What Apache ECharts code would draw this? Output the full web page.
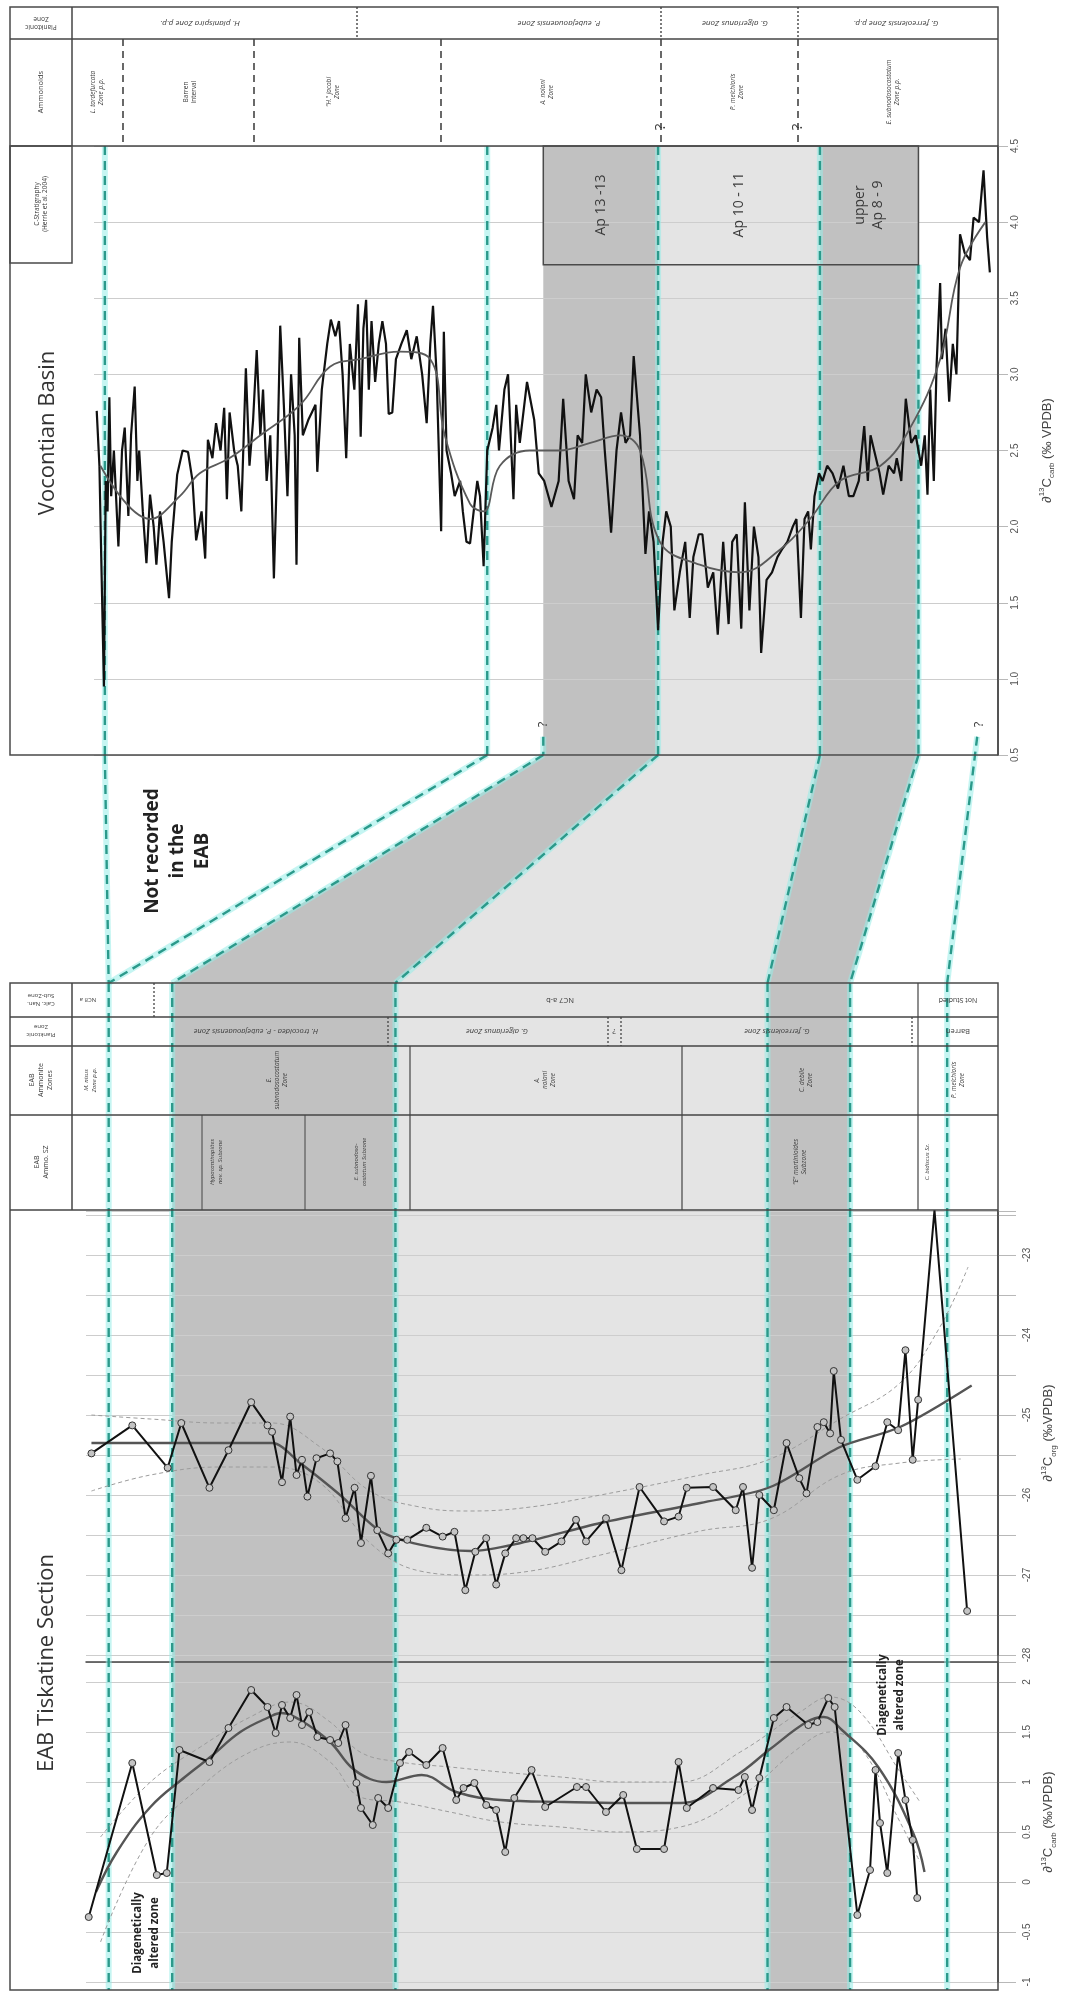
<!DOCTYPE html>
<html>
<head>
<meta charset="utf-8">
<script src="https://cdn.jsdelivr.net/npm/echarts@6.0.0/dist/echarts.min.js"></script>
<style>
  html, body { margin: 0; padding: 0; background: #fff; }
  #chart { width: 1065px; height: 1993px; }
</style>
</head>
<body>
<div id="chart"></div>
<script>
// ---- Vocontian Basin, d13C carb (position along section 0-100) ----
const vocPos = [0.3,0.6,0.8,1.1,1.3,1.5,1.7,1.9,2.2,2.7,
  3.1,3.4,3.8,4.1,4.5,4.8,5.0,5.4,5.8,6.2,
  6.6,6.9,7.3,7.7,8.3,8.6,9.2,9.8,10.4,10.9,
  11.3,11.9,12.3,12.6,13.1,13.5,14.0,14.4,14.7,15.0,
  15.5,15.9,16.3,16.8,17.2,17.6,18.0,18.4,18.7,19.1,
  19.5,19.9,20.3,20.6,21.0,21.4,21.8,22.2,22.4,22.7,
  23.1,23.7,24.1,24.5,24.7,25.2,25.8,26.2,26.7,27.1,
  27.5,27.9,28.3,28.8,29.2,29.5,29.8,30.1,30.4,30.7,
  31.1,31.5,31.9,32.3,32.6,33.0,33.4,34.0,34.6,35.1,
  35.7,36.3,36.8,37.2,37.5,37.9,38.4,38.7,39.0,39.5,
  39.9,40.5,40.8,41.2,41.6,42.0,42.4,42.7,43.1,43.5,
  44.1,44.5,44.8,45.4,45.8,46.4,46.7,47.1,47.9,48.7,
  49.2,49.8,50.6,51.4,51.9,52.5,53.1,53.5,54.0,54.4,
  55.0,55.6,56.1,56.5,57.2,57.8,58.3,58.8,59.3,59.7,
  60.4,61.0,61.4,61.9,62.4,62.9,63.3,63.8,64.2,64.8,
  65.4,65.9,66.3,66.9,67.3,67.9,68.5,69.0,69.6,70.2,
  70.6,71.1,71.6,72.0,72.5,73.0,73.5,73.8,74.4,75.0,
  75.6,76.1,76.7,77.3,77.7,78.2,78.6,79.0,79.3,79.7,
  80.2,80.6,81.1,81.7,82.3,82.9,83.5,84.0,84.6,85.2,
  85.6,85.9,86.3,86.9,87.3,87.9,88.5,88.8,89.3,89.8,
  90.4,90.9,91.5,91.9,92.2,92.5,92.9,93.2,93.6,93.8,
  94.2,94.6,95.0,95.4,95.8,96.3,96.9,97.3,97.9,98.4,
  98.8,99.1];
const vocD13C = [2.76,2.4,1.8,0.95,2.3,2.1,2.85,2.2,2.5,1.87,
  2.5,2.65,2.07,2.6,2.92,2.3,2.5,2.1,1.76,2.21,
  2.0,1.75,2.1,1.9,1.53,1.9,2.34,2.5,2.49,2.3,
  1.91,2.1,1.79,2.57,2.45,2.68,2.5,2.78,2.18,2.75,
  2.5,2.4,2.1,3.04,2.4,2.7,3.16,2.6,2.9,2.3,
  2.6,1.66,2.5,3.32,2.8,2.2,3.0,2.6,1.75,3.24,
  2.6,2.7,2.75,2.8,2.36,2.9,3.2,3.36,3.25,3.35,
  3.0,2.45,3.2,2.9,3.46,2.59,3.3,3.49,2.9,3.35,
  2.95,3.2,3.35,3.2,2.74,2.75,3.1,3.2,3.29,3.1,
  3.25,3.0,2.68,3.2,3.45,3.0,1.97,3.28,2.5,2.35,
  2.2,2.3,2.1,1.9,1.89,2.1,2.3,2.2,1.74,2.5,
  2.65,2.8,2.5,2.9,3.0,2.18,2.8,2.55,2.95,2.7,
  2.35,2.3,2.13,2.3,2.84,2.3,2.18,2.6,2.55,3.0,
  2.75,2.9,2.85,2.5,1.96,2.5,2.75,2.55,2.6,3.12,
  2.6,1.82,2.1,1.9,1.32,1.9,2.1,2.0,1.45,1.7,
  1.9,1.4,1.8,1.95,1.95,1.6,1.7,1.29,1.9,1.36,
  1.9,1.95,1.33,2.16,1.45,2.0,1.8,1.17,1.65,1.7,
  1.8,1.85,1.9,2.0,2.05,1.4,2.05,2.1,1.85,2.2,
  2.35,2.3,2.4,2.35,2.25,2.4,2.2,2.2,2.3,2.66,
  2.3,2.6,2.5,2.35,2.21,2.4,2.35,2.45,2.3,2.84,
  2.55,2.6,2.4,2.6,2.21,2.9,2.3,3.05,3.6,3.1,
  3.3,2.82,3.2,3.0,3.92,3.8,3.75,4.03,4.0,4.34,
  3.9,3.67];
const vocFitPos = [0.7,6.2,9.5,11.7,15.0,18.4,22.8,26.1,29.4,33.8,37.2,38.8,41.6,43.1,44.9,48.2,51.5,54.9,58.2,60.4,62.6,67.0,71.5,75.9,79.2,82.5,87.0,90.3,93.6,95.8,98.6];
const vocFit = [2.4,2.05,2.2,2.35,2.45,2.6,2.8,3.05,3.1,3.15,3.1,2.6,2.15,2.1,2.4,2.5,2.5,2.55,2.6,2.5,1.9,1.75,1.7,1.85,2.05,2.3,2.4,2.65,3.1,3.7,4.0];

// ---- EAB Tiskatine section, d13C org ----
const orgPos = [0.1,4.6,8.5,10.0,13.1,15.2,17.7,19.5,20.0,21.1,22.0,22.7,23.3,23.9,24.9,26.4,27.2,28.1,29.1,29.8,30.9,31.6,32.8,33.7,34.9,37.0,38.8,40.1,41.3,42.4,43.6,44.7,45.7,46.9,47.7,48.7,50.1,51.9,53.5,54.6,56.8,58.5,60.5,63.2,64.8,65.7,68.6,71.1,71.9,72.9,73.7,75.3,76.7,78.1,78.9,80.1,80.8,81.5,81.9,82.7,84.5,86.5,87.8,89.0,89.8,90.6,91.2,93.0,96.6];
const orgD13C = [-25.48,-25.13,-25.66,-25.10,-25.91,-25.44,-24.84,-25.13,-25.21,-25.84,-25.02,-25.75,-25.56,-26.02,-25.54,-25.48,-25.58,-26.29,-25.91,-26.60,-25.76,-26.44,-26.73,-26.56,-26.56,-26.41,-26.52,-26.46,-27.19,-26.71,-26.54,-27.12,-26.73,-26.54,-26.54,-26.54,-26.71,-26.58,-26.31,-26.58,-26.29,-26.94,-25.90,-26.33,-26.27,-25.91,-25.90,-26.19,-25.90,-26.91,-26.00,-26.19,-25.35,-25.79,-25.98,-25.15,-25.09,-25.23,-24.45,-25.31,-25.81,-25.64,-25.09,-25.19,-24.19,-25.56,-24.81,-22.44,-27.45];
const orgFitPos = [0.1,6.6,12.1,20.0,23.1,27.5,31.9,36.3,41.9,47.4,56.2,67.2,74.9,82.6,89.2,97.1];
const orgFit = [-25.35,-25.35,-25.35,-25.35,-25.6,-26.0,-26.45,-26.62,-26.7,-26.6,-26.35,-26.1,-25.9,-25.4,-25.15,-24.63];
const orgUpperPos = [0.1,6.6,14.3,20.0,25.3,30.8,36.3,41.9,48.5,56.2,67.2,74.9,82.6,89.2,93.6,96.7];
const orgUpper = [-25.0,-25.05,-25.1,-25.1,-25.4,-25.95,-26.15,-26.2,-26.15,-26.0,-25.75,-25.55,-25.05,-24.6,-23.9,-23.15];
const orgLowerPos = [0.1,6.6,14.3,20.0,25.3,30.8,36.3,41.9,48.5,56.2,67.2,74.9,82.6,89.2,95.9];
const orgLower = [-25.95,-25.75,-25.65,-25.65,-25.85,-26.6,-26.95,-27.0,-26.95,-26.75,-26.45,-26.3,-25.75,-25.6,-25.55];

// ---- EAB Tiskatine section, d13C carb ----
const carbPos = [-0.2,4.6,7.3,8.4,9.8,13.1,15.2,17.7,19.5,20.4,21.1,22.0,22.7,23.3,24.1,25.0,26.4,27.3,28.1,29.3,29.8,31.1,31.7,32.8,34.1,35.1,37.0,38.8,40.3,41.1,42.3,43.6,44.7,45.7,46.7,48.6,50.1,53.6,54.6,56.8,58.7,60.2,63.2,64.8,65.7,68.6,71.4,72.1,72.9,73.7,75.3,76.7,79.1,80.1,81.3,82.0,84.5,85.9,86.5,87.0,87.8,89.0,89.8,90.6,91.1];
const carbD13C = [-0.35,1.19,0.07,0.09,1.32,1.20,1.54,1.92,1.75,1.49,1.77,1.64,1.87,1.57,1.70,1.45,1.42,1.39,1.57,0.99,0.74,0.57,0.84,0.74,1.19,1.30,1.17,1.34,0.82,0.94,0.99,0.77,0.72,0.30,0.84,1.12,0.75,0.95,0.95,0.70,0.87,0.33,0.33,1.20,0.74,0.94,0.92,1.05,0.72,1.04,1.64,1.75,1.57,1.60,1.84,1.75,-0.33,0.12,1.12,0.59,0.09,1.29,0.82,0.42,-0.16];
const carbFitPos = [0.6,2.9,6.6,10.4,13.2,16.5,19.7,21.0,23.1,26.4,28.7,30.8,32.6,36.5,40.3,45.2,52.2,58.8,65.0,70.9,74.9,78.9,80.8,82.8,86.8,90.7,91.9];
const carbFit = [-0.1,0.3,0.75,1.05,1.25,1.5,1.65,1.69,1.62,1.4,1.15,1.03,1.0,1.07,0.9,0.82,0.8,0.79,0.79,1.05,1.33,1.6,1.65,1.52,1.15,0.48,0.1];
const carbBandPos = [1.1,6.6,12.1,17.6,22.0,26.4,29.7,34.1,39.6,45.2,51.8,58.4,65.0,71.6,78.2,81.5,84.8,89.2,91.4];
const carbUpper = [0.45,1.0,1.35,1.65,1.8,1.6,1.3,1.2,1.15,1.1,1.05,1.0,1.0,1.3,1.7,1.85,1.7,1.1,0.8];
const carbLower = [-0.6,0.45,0.95,1.3,1.4,1.2,0.85,0.8,0.7,0.6,0.55,0.5,0.55,0.85,1.35,1.5,1.35,0.6,0.2];

// ---- tick labels ----
const vocTicks = [0.5,1.0,1.5,2.0,2.5,3.0,3.5,4.0,4.5];
const orgTicks = [-28,-27,-26,-25,-24,-23];
const carbTicks = [-1,-0.5,0,0.5,1,1.5,2];

// ---- correlated intervals (positions on each section) ----
const vocShadeFrom = [49.7, 62.4, 80.3];
const vocShadeTo = [62.4, 80.3, 91.2];
const eabShadeFrom = [9.0, 33.6, 74.6];
const eabShadeTo = [33.6, 74.6, 83.7];
const vocLinePos = [1.2, 43.5, 62.4, 80.3, 91.2];
const vocLineTop = [4.5, 4.5, 4.5, 4.5, 3.72];
const eabLinePos = [2.0, 9.0, 33.6, 74.6, 83.7, 94.4];
const tieVoc = [1.2, 43.5, 49.7, 62.4, 80.3, 91.2, 97.7];
const tieVocValue = [0.5, 0.5, 0.62, 0.5, 0.5, 0.5, 0.62];
const tieEab = [2.0, 2.0, 9.0, 33.6, 74.6, 83.7, 94.4];
const cStratFrom = [49.7, 62.4, 80.3];
const cStratTo = [62.4, 80.3, 91.2];
const cStratNames = ['Ap 13 -13', 'Ap 10 - 11', 'upper\nAp 8 - 9'];

const shadeColours = ['#c1c1c1', '#e4e4e4', '#c1c1c1'];
const FONT = '"Open Sans", "DejaVu Sans", sans-serif';
const TFONT = '"Liberation Sans", Arial, sans-serif';

const zip = (xs, ys) => xs.map((x, i) => [x, ys[i]]);
const tickFmt = (ticks, digits) => v => {
  const t = ticks.find(k => Math.abs(k - v) < 1e-6);
  return t === undefined ? '' : (digits ? t.toFixed(digits) : String(t));
};
const axisName = (sub, tail) => '{n|∂}{s|13}{n|C}{b|' + sub + '}{n|' + tail + '}';
const nameStyle = {
  color: '#444', fontFamily: TFONT,
  rich: {
    n: {fontSize: 13, lineHeight: 18, fontFamily: TFONT, color: '#444'},
    s: {fontSize: 8, lineHeight: 18, verticalAlign: 'top', fontFamily: TFONT, color: '#444'},
    b: {fontSize: 8, lineHeight: 18, verticalAlign: 'bottom', fontFamily: TFONT, color: '#444'}
  }
};
const yAxisBase = (grid, min, max, ticks, digits, margin, tickLen) => ({
  gridIndex: grid, type: 'value', position: 'right', min: min, max: max, interval: 0.5, z: 0,
  axisLine: {show: true, onZero: false, lineStyle: {color: '#4a4a4a', width: 1.5}},
  axisTick: {show: true, length: tickLen, lineStyle: {color: '#b8b8b8'}},
  splitLine: {show: true, lineStyle: {color: '#cdcdcd', width: 1.2}},
  axisLabel: {rotate: 90, fontSize: 10, color: '#555', fontFamily: TFONT, margin: margin,
    formatter: tickFmt(ticks, digits)},
  nameLocation: 'middle', nameRotate: 90, nameTextStyle: nameStyle
});

const rawStyle = {color: '#111', width: 2};
const dotStyle = {color: '#c4c4c4', borderColor: '#333', borderWidth: 1};
const fitStyle = {color: '#555', width: 2.4};
const ciStyle = {color: '#9c9c9c', width: 1, type: [4, 3]};

const option = {
  animation: false,
  backgroundColor: '#fff',
  grid: [
    {left: 94, top: 146, width: 904, height: 609, containLabel: false, outerBoundsMode: 'none'},
    {left: 86, top: 1211, width: 912, height: 444, containLabel: false, outerBoundsMode: 'none'},
    {left: 86, top: 1662, width: 912, height: 320, containLabel: false, outerBoundsMode: 'none'}
  ],
  xAxis: [
    {gridIndex: 0, type: 'value', min: 0, max: 100, show: false},
    {gridIndex: 1, type: 'value', min: -0.5, max: 100, show: false},
    {gridIndex: 2, type: 'value', min: -0.5, max: 100, position: 'top',
      axisLine: {show: true, onZero: false, lineStyle: {color: '#444', width: 1.5}},
      axisTick: {show: false}, axisLabel: {show: false}, splitLine: {show: false}}
  ],
  yAxis: [
    Object.assign(yAxisBase(0, 0.5, 4.5, vocTicks, 1, 12, 10),
      {name: axisName('carb', ' (‰ VPDB)'), nameGap: 40}),
    Object.assign(yAxisBase(1, -28, -22.45, orgTicks, 0, 24, 18),
      {name: axisName('org', ' (‰VPDB)'), nameGap: 38}),
    Object.assign(yAxisBase(2, -1, 2.2, carbTicks, 0, 24, 18),
      {name: axisName('carb', ' (‰VPDB)'), nameGap: 38})
  ],
  series: [
    {type: 'line', xAxisIndex: 0, yAxisIndex: 0, data: zip(vocPos, vocD13C), symbol: 'none',
      lineStyle: {color: '#111', width: 2.2}, z: 5, silent: true},
    {type: 'line', xAxisIndex: 0, yAxisIndex: 0, data: zip(vocFitPos, vocFit), symbol: 'none',
      smooth: 0.4, lineStyle: {color: '#5a5a5a', width: 1.8}, z: 6, silent: true},

    {type: 'line', xAxisIndex: 1, yAxisIndex: 1, data: zip(orgUpperPos, orgUpper), symbol: 'none',
      smooth: 0.4, lineStyle: ciStyle, z: 4, silent: true},
    {type: 'line', xAxisIndex: 1, yAxisIndex: 1, data: zip(orgLowerPos, orgLower), symbol: 'none',
      smooth: 0.4, lineStyle: ciStyle, z: 4, silent: true},
    {type: 'line', xAxisIndex: 1, yAxisIndex: 1, data: zip(orgFitPos, orgFit), symbol: 'none',
      smooth: 0.3, lineStyle: fitStyle, z: 5, silent: true},
    {type: 'line', xAxisIndex: 1, yAxisIndex: 1, data: zip(orgPos, orgD13C), symbol: 'circle',
      symbolSize: 7, itemStyle: dotStyle, lineStyle: rawStyle, z: 6, silent: true},

    {type: 'line', xAxisIndex: 2, yAxisIndex: 2, data: zip(carbBandPos, carbUpper), symbol: 'none',
      smooth: 0.4, lineStyle: ciStyle, z: 4, silent: true},
    {type: 'line', xAxisIndex: 2, yAxisIndex: 2, data: zip(carbBandPos, carbLower), symbol: 'none',
      smooth: 0.4, lineStyle: ciStyle, z: 4, silent: true},
    {type: 'line', xAxisIndex: 2, yAxisIndex: 2, data: zip(carbFitPos, carbFit), symbol: 'none',
      smooth: 0.4, lineStyle: fitStyle, z: 5, silent: true},
    {type: 'line', xAxisIndex: 2, yAxisIndex: 2, data: zip(carbPos, carbD13C), symbol: 'circle',
      symbolSize: 7, itemStyle: dotStyle, lineStyle: rawStyle, z: 6, silent: true}
  ]
};

const chart = echarts.init(document.getElementById('chart'), null, {renderer: 'canvas'});
chart.setOption(option);

// ---- frames, shading, correlation lines and header tables ----
const X0 = u => chart.convertToPixel({xAxisIndex: 0}, u);
const X1 = u => chart.convertToPixel({xAxisIndex: 1}, u);
const Y0 = v => chart.convertToPixel({yAxisIndex: 0}, v);
const TOPB = Y0(0.5), TOPT = Y0(4.5);
const T = {l: 10, r: 998, t: 7, r1: 39, r2: 146, col: 72, cs: 263};
const B = {t: 983, r1: 1017, r2: 1046, r3: 1115, r4: 1210, b: 1990};

const G = [];
const rect = (x, y, w, h, style, z) => G.push({type: 'rect', silent: true, z: z, shape: {x, y, width: w, height: h}, style: style});
const line = (x1, y1, x2, y2, style, z) => G.push({type: 'line', silent: true, z: z === undefined ? 10 : z,
  shape: {x1, y1, x2, y2}, style: Object.assign({stroke: '#444', lineWidth: 1.3}, style)});
const teal = (x1, y1, x2, y2) => {
  line(x1, y1, x2, y2, {stroke: 'rgba(150,236,232,0.55)', lineWidth: 6}, 1.5);
  line(x1, y1, x2, y2, {stroke: '#2b9a8b', lineWidth: 2.4, lineDash: [9, 6]}, 2);
};
const txt = (x, y, s, o) => {
  o = o || {};
  const size = o.size || 8;
  G.push({type: 'text', silent: true, z: 12, x: x, y: y, rotation: (o.rot || 0) * Math.PI / 180,
    style: {text: s, fontSize: size, fontFamily: o.font || FONT, fontWeight: o.bold ? 'bold' : 'normal',
      fontStyle: o.italic ? 'italic' : 'normal', fill: o.color || '#3a3a3a',
      align: 'center', verticalAlign: 'middle', lineHeight: o.lh || Math.round(size * 1.25)}});
};

// shading
vocShadeFrom.forEach((a, i) => rect(X0(a), TOPT, X0(vocShadeTo[i]) - X0(a), TOPB - TOPT, {fill: shadeColours[i]}, -5));
eabShadeFrom.forEach((a, i) => rect(X1(a), B.t, X1(eabShadeTo[i]) - X1(a), B.b - B.t, {fill: shadeColours[i]}, -5));
vocShadeFrom.forEach((a, i) => G.push({type: 'polygon', silent: true, z: -5,
  shape: {points: [[X0(a), TOPB], [X0(vocShadeTo[i]), TOPB], [X1(eabShadeTo[i]), B.t], [X1(eabShadeFrom[i]), B.t]]},
  style: {fill: shadeColours[i]}}));

// correlation lines
vocLinePos.forEach((u, i) => teal(X0(u), Y0(vocLineTop[i]), X0(u), TOPB));
eabLinePos.forEach(u => teal(X1(u), B.t, X1(u), B.b));
tieVoc.forEach((u, i) => {
  if (i === 2) {
    teal(X0(u), Y0(tieVocValue[i]), X0(u), TOPB);
    teal(X0(u), TOPB, X1(tieEab[i]), B.t);
  } else {
    teal(X0(u), Y0(tieVocValue[i]), X1(tieEab[i]), B.t);
  }
});
txt(X0(49.7), Y0(0.7), '?', {rot: 90, size: 13});
txt(X0(97.7) + 2, Y0(0.7), '?', {rot: 90, size: 13});

// top panel frame and header
const frame = {fill: 'none', stroke: '#4a4a4a', lineWidth: 1.5};
rect(T.l, T.t, T.r - T.l, TOPB - T.t, frame, 10);
line(T.l, T.r1, T.r, T.r1, {lineWidth: 1.5});
line(T.l, T.r2, T.r, T.r2, {lineWidth: 1.5});
line(T.col, T.t, T.col, T.r2, {lineWidth: 1.5});
rect(T.l, T.r2, T.col - T.l, T.cs - T.r2, frame, 10);
rect(X0(cStratFrom[0]), TOPT, X0(cStratTo[2]) - X0(cStratFrom[0]), Y0(3.72) - TOPT, frame, 10);
cStratNames.forEach((s, i) => txt((X0(cStratFrom[i]) + X0(cStratTo[i])) / 2, 205, s, {rot: 90, size: 14, lh: 18}));

[357, 661, 798].forEach(x => line(x, T.t, x, T.r1, {lineDash: [2, 2], lineWidth: 1.4}));
[123, 254, 441, 661, 798].forEach(x => line(x, T.r1, x, T.r2, {lineDash: [7, 5], lineWidth: 1.6}));
txt(41, 23, 'Planktonic\nZone', {rot: 180, size: 6.5});
txt(41, 92, 'Ammonoids', {rot: 90, size: 7.5});
txt(41, 204, 'C-Stratigraphy\n(Herrle et al. 2004)', {rot: 90, size: 6.5});
txt(200, 23, 'H. planispira Zone p.p.', {rot: 180, size: 8, italic: true});
txt(559, 23, 'P. eubejaouaensis Zone', {rot: 180, size: 8, italic: true});
txt(735, 23, 'G. algerianus Zone', {rot: 180, size: 8, italic: true});
txt(896, 23, 'G. ferreolensis Zone p.p.', {rot: 180, size: 8, italic: true});
txt(97, 92, 'L. tardefurcata\nZone p.p.', {rot: 90, size: 6.5, italic: true});
txt(190, 92, 'Barren\ninterval', {rot: 90, size: 6.5});
txt(333, 92, '"H." jacobi\nZone', {rot: 90, size: 6.5, italic: true});
txt(547, 92, 'A. nolani\nZone', {rot: 90, size: 6.5, italic: true});
txt(737, 92, 'P. melchioris\nZone', {rot: 90, size: 6.5, italic: true});
txt(893, 92, 'E. subnodosocostatum\nZone p.p.', {rot: 90, size: 6.5, italic: true});
txt(661, 127, '?', {rot: 90, size: 15});
txt(798, 127, '?', {rot: 90, size: 15});
txt(48, 433, 'Vocontian Basin', {rot: 90, size: 22, color: '#333'});

// connector annotation
txt(178, 851, 'Not recorded\nin the\nEAB', {rot: 90, size: 19, bold: true, lh: 25, color: '#222'});

// lower panel frame and header
rect(T.l, B.t, T.r - T.l, B.b - B.t, frame, 10);
[B.r1, B.r2, B.r3, B.r4].forEach(y => line(T.l, y, T.r, y, {lineWidth: 1.5}));
line(T.col, B.t, T.col, B.r4, {lineWidth: 1.5});
line(154, B.t, 154, B.r1, {lineDash: [2, 2]});
line(918, B.t, 918, B.r2, {lineWidth: 1.2});
[388, 608, 621, 912].forEach(x => line(x, B.r1, x, B.r2, {lineDash: [2, 2]}));
[410, 682, 918].forEach(x => line(x, B.r2, x, B.r4, {lineWidth: 1.2}));
[202, 305].forEach(x => line(x, B.r3, x, B.r4, {lineWidth: 1}));
txt(41, 1000, 'Calc. Nan.\nSub-Zone', {rot: 180, size: 6});
txt(41, 1031, 'Planktonic\nZone', {rot: 180, size: 6});
txt(41, 1080, 'EAB\nAmmonite\nZones', {rot: 90, size: 7});
txt(41, 1162, 'EAB\nAmmo. SZ', {rot: 90, size: 7});
txt(88, 1000, 'NC8 a', {rot: 180, size: 6});
txt(560, 1000, 'NC7 a-b', {rot: 180, size: 7.5});
txt(958, 1000, 'Not Studied', {rot: 180, size: 7});
txt(256, 1031, 'H. trocoidea - P. eubejaouaensis Zone', {rot: 180, size: 7.5, italic: true});
txt(497, 1031, 'G. algerianus Zone', {rot: 180, size: 7.5, italic: true});
txt(614, 1031, '?', {rot: 180, size: 8});
txt(777, 1031, 'G. ferreolensis Zone', {rot: 180, size: 7.5, italic: true});
txt(958, 1031, 'Barren', {rot: 180, size: 7.5});
txt(90, 1080, 'M. nisus\nZone p.p.', {rot: 90, size: 6, italic: true});
txt(277, 1080, 'E.\nsubnodosocostatum\nZone', {rot: 90, size: 6.5, italic: true});
txt(545, 1080, 'A.\nnolani\nZone', {rot: 90, size: 6.5, italic: true});
txt(806, 1080, 'C. debile\nZone', {rot: 90, size: 6.5, italic: true});
txt(958, 1080, 'P. melchioris\nZone', {rot: 90, size: 6.5, italic: true});
txt(216, 1162, 'Hypacanthoplites\nnov. sp. Subzone', {rot: 90, size: 6, italic: true});
txt(360, 1162, 'E. subnodoso-\ncostatum Subzone', {rot: 90, size: 6, italic: true});
txt(800, 1162, '"E" martinioides\nSubzone', {rot: 90, size: 6.5, italic: true});
txt(927, 1162, 'C. bidiscus Sz.', {rot: 90, size: 6, italic: true});
txt(47, 1663, 'EAB Tiskatine Section', {rot: 90, size: 22, color: '#333'});
txt(146, 1933, 'Diagenetically\naltered zone', {rot: 90, size: 11.5, bold: true, lh: 17, color: '#222'});
txt(891, 1695, 'Diagenetically\naltered zone', {rot: 90, size: 11.5, bold: true, lh: 17, color: '#222'});

chart.setOption({graphic: {elements: G}});
</script>
</body>
</html>
